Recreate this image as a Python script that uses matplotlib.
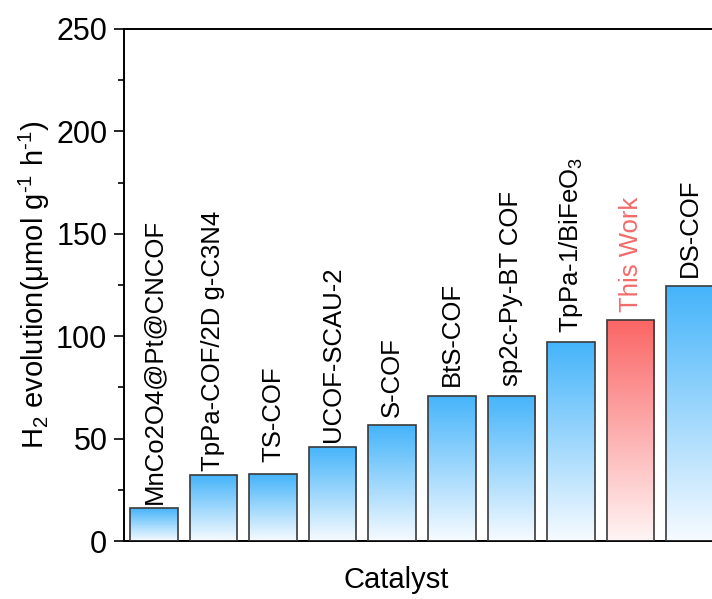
import numpy as np
import matplotlib
matplotlib.use("Agg")
import matplotlib.pyplot as plt
from matplotlib.colors import LinearSegmentedColormap

plt.rcParams['font.family'] = ['Liberation Sans', 'DejaVu Sans']
plt.rcParams['mathtext.fontset'] = 'custom'
plt.rcParams['mathtext.rm'] = 'Liberation Sans'
plt.rcParams['mathtext.it'] = 'Liberation Sans:italic'

catalysts = ['MnCo2O4@Pt@CNCOF', 'TpPa-COF/2D g-C3N4', 'TS-COF', 'UCOF-SCAU-2',
             'S-COF', 'BtS-COF', 'sp2c-Py-BT COF', 'TpPa-1/BiFeO$_3$',
             'This Work', 'DS-COF']
h2_rates = [16, 32, 32.5, 46, 56.5, 71, 71, 97, 108, 124.5]
highlight = 'This Work'

# gap between bar top and its name, in data units
label_gap = [2, 2, 6.3, 2.4, 4, 4.8, 4.8, 4.4, 3.9, 4.4]

blue_cmap = LinearSegmentedColormap.from_list('blue', ['#f7fbff', '#45b4fa'])
red_cmap = LinearSegmentedColormap.from_list('red', ['#fff5f5', '#fb6565'])

fig = plt.figure(figsize=(7.12, 5.99), dpi=100)
ax = fig.add_axes([0.1742, 0.0968, 0.837, 0.8548])

x = np.arange(1, len(catalysts) + 1)
bars = ax.bar(x, h2_rates, width=0.8, facecolor='none', edgecolor='#3a3a3a',
              linewidth=1.2, zorder=3)

grad = np.linspace(0, 1, 256).reshape(-1, 1)
for bar, name, gap in zip(bars, catalysts, label_gap):
    x0, w, h = bar.get_x(), bar.get_width(), bar.get_height()
    cmap = red_cmap if name == highlight else blue_cmap
    im = ax.imshow(grad, extent=[x0, x0 + w, 0, h], origin='lower',
                   aspect='auto', cmap=cmap, zorder=2)
    im.set_clip_path(bar)
    ax.text(x0 + w / 2, h + gap, name, rotation=90, ha='center',
            va='bottom', fontsize=18.5,
            color='#f26b6b' if name == highlight else 'black')

ax.set_xlim(0.5, len(catalysts) + 0.5)
ax.set_ylim(0, 250)
ax.set_yticks(np.arange(0, 251, 50))
ax.set_yticks(np.arange(25, 250, 50), minor=True)
ax.set_xticks([])
ax.tick_params(axis='y', which='major', length=7.5, width=1.2, labelsize=22, pad=4.5)
ax.tick_params(axis='y', which='minor', length=4, width=1.2)
for s in ax.spines.values():
    s.set_linewidth(1.4)

ax.set_xlabel('Catalyst', fontsize=21)
ax.xaxis.set_label_coords((396 - 124) / 596, -25 / 512)
ax.set_ylabel(r'H$_2$ evolution(μmol g$^{\text{-1}}$ h$^{\text{-1}}$)', fontsize=21,
              labelpad=3)

fig.savefig('out.png', dpi=100)
